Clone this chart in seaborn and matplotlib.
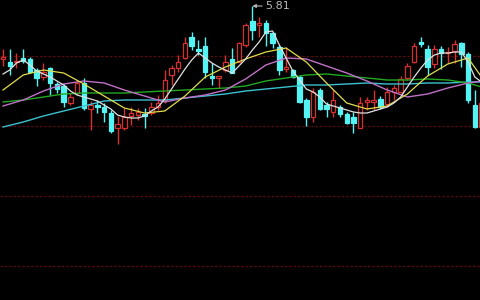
import numpy as np
import pandas as pd
import matplotlib
matplotlib.use("Agg")
import matplotlib.pyplot as plt
import seaborn as sns

# ---- candle data (price units) ----
opens = [5.28,5.25,5.25,5.29,5.28,5.17,5.10,5.19,5.03,5.01,
         4.84,4.94,5.04,4.78,4.82,4.80,4.74,4.59,4.59,4.71,
         4.72,4.73,4.74,4.80,4.87,5.12,5.19,5.29,5.50,5.38,
         5.41,5.11,5.09,5.17,5.28,5.25,5.42,5.66,5.62,5.64,
         5.54,5.40,5.18,5.17,5.10,4.87,4.70,4.97,4.82,4.75,
         4.80,4.73,4.70,4.59,4.85,4.85,4.88,4.83,4.95,4.95,
         5.09,5.25,5.45,5.38,5.23,5.38,5.34,5.36,5.44,5.33,
         4.82,4.60]
highs = [5.38,5.38,5.34,5.38,5.30,5.19,5.24,5.20,5.05,5.03,
         4.94,5.07,5.09,4.86,4.87,4.84,4.77,4.71,4.79,4.80,
         4.79,4.79,4.85,4.92,5.17,5.22,5.32,5.50,5.55,5.47,
         5.50,5.24,5.11,5.32,5.39,5.45,5.64,5.81,5.70,5.67,
         5.55,5.42,5.40,5.18,5.12,4.89,4.99,4.99,4.85,4.97,
         4.82,4.75,4.75,4.90,4.90,4.97,4.91,5.00,5.02,5.11,
         5.24,5.44,5.50,5.42,5.42,5.41,5.40,5.47,5.45,5.35,
         4.97,4.87]
lows = [5.21,5.12,5.19,5.24,5.14,5.01,5.07,4.92,4.94,4.80,
        4.82,4.92,4.77,4.57,4.74,4.65,4.54,4.43,4.57,4.62,
        4.67,4.59,4.72,4.77,4.84,5.02,5.15,5.28,5.37,5.32,
        5.09,5.02,4.99,5.15,5.14,5.25,5.40,5.47,5.50,5.41,
        5.39,5.12,5.15,5.09,4.84,4.61,4.65,4.77,4.70,4.70,
        4.70,4.63,4.54,4.59,4.77,4.77,4.78,4.80,4.87,4.94,
        5.07,5.24,5.40,5.12,5.19,5.18,5.24,5.24,5.20,4.84,
        4.59,4.59]
closes = [5.30,5.21,5.26,5.26,5.15,5.09,5.15,5.04,4.98,4.85,
          4.90,5.04,4.79,4.82,4.80,4.75,4.56,4.63,4.70,4.74,
          4.75,4.71,4.80,4.84,5.07,5.19,5.25,5.44,5.41,5.36,
          5.15,5.09,5.11,5.25,5.14,5.44,5.62,5.57,5.64,5.54,
          5.44,5.17,5.20,5.10,4.85,4.70,4.95,4.78,4.78,4.87,
          4.73,4.64,4.64,4.84,4.87,4.87,4.80,4.95,4.99,5.08,
          5.21,5.41,5.43,5.20,5.38,5.34,5.35,5.43,5.33,4.87,
          4.60,4.84]

# ---- moving averages ----
ma5 = [5.13,5.17,5.24,5.27,5.22,5.16,5.13,5.10,5.06,5.02,
       4.96,4.92,4.90,4.88,4.86,4.82,4.78,4.72,4.70,4.69,
       4.69,4.71,4.76,4.80,4.88,4.98,5.08,5.18,5.27,5.34,
       5.29,5.24,5.20,5.17,5.14,5.21,5.28,5.37,5.45,5.55,
       5.56,5.42,5.29,5.16,5.07,4.98,4.95,4.90,4.83,4.81,
       4.79,4.77,4.75,4.74,4.74,4.76,4.78,4.80,4.84,4.90,
       5.00,5.10,5.19,5.27,5.32,5.34,5.34,5.35,5.35,5.25,
       5.10,5.05]
ma_idx = [0,3,6,9,12,15,18,21,24,27,30,33,36,39,42,45,48,51,54,57,60,63,66,69,71]
ma10 = [4.97,5.12,5.17,5.14,5.03,4.91,4.79,4.74,4.76,4.91,5.10,5.20,5.28,
        5.35,5.39,5.25,5.04,4.84,4.78,4.81,4.93,5.11,5.23,5.29,5.10]
ma20 = [4.81,4.87,4.96,5.03,5.06,5.04,4.97,4.91,4.85,4.89,4.92,4.97,5.08,
        5.22,5.29,5.28,5.21,5.14,5.06,4.97,4.90,4.93,4.99,5.04,5.06]
ma30 = [4.85,4.87,4.90,4.93,4.94,4.94,4.94,4.95,4.96,4.97,4.98,4.99,5.01,
        5.06,5.09,5.12,5.13,5.11,5.09,5.07,5.07,5.08,5.07,5.04,5.00]
ma60 = [4.60,4.65,4.71,4.76,4.81,4.86,4.87,4.87,4.87,4.89,4.91,4.93,4.96,
        4.98,5.00,5.02,5.02,5.03,5.04,5.03,5.03,5.04,5.04,5.05,5.05]

grid_levels = [5.31, 4.61, 3.91, 3.21]
peak_label = "5.81"
peak_index = 37
peak_value = 5.81

RED = "#d8302c"
CYAN = "#54f4f4"

fig = plt.figure(figsize=(4.8, 3.0), dpi=100, facecolor="black")
ax = fig.add_axes([0, 0, 1, 1])
ax.set_facecolor("black")

for g in grid_levels:
    ax.axhline(g, color="#5e0808", lw=0.9, ls=(0, (2, 1.5)), zorder=1)

idx = np.arange(len(opens))
o = np.array(opens); c = np.array(closes)
h = np.array(highs); l = np.array(lows)
up = c >= o
cols = np.where(up, RED, CYAN)

ax.vlines(idx, l, h, colors=cols, lw=1.0, zorder=2)
bottoms = np.minimum(o, c)
heights = np.maximum(np.abs(c - o), 0.004)
ax.bar(idx[up], heights[up], bottom=bottoms[up], width=0.66,
       color="black", edgecolor=RED, linewidth=0.9, zorder=3)
ax.bar(idx[~up], heights[~up], bottom=bottoms[~up], width=0.66,
       color=CYAN, edgecolor=CYAN, linewidth=0.9, zorder=3)

df5 = pd.DataFrame({"i": idx, "v": ma5})
dfm = pd.DataFrame({"i": ma_idx, "ma10": ma10, "ma20": ma20,
                    "ma30": ma30, "ma60": ma60})
sns.lineplot(data=dfm, x="i", y="ma60", color="#3cc0d0", lw=1.0, ax=ax, zorder=4)
sns.lineplot(data=dfm, x="i", y="ma30", color="#22a822", lw=1.0, ax=ax, zorder=4)
sns.lineplot(data=dfm, x="i", y="ma20", color="#c070c8", lw=1.0, ax=ax, zorder=4)
sns.lineplot(data=dfm, x="i", y="ma10", color="#e0dc48", lw=0.9, ax=ax, zorder=4)
sns.lineplot(data=df5, x="i", y="v", color="#e0e0e0", lw=0.9, ax=ax, zorder=5)

ax.annotate(peak_label, xy=(peak_index, peak_value), xytext=(9, 0),
            textcoords="offset points", va="center", ha="left",
            color="#b8b8b8", fontsize=8,
            arrowprops=dict(arrowstyle="-|>", color="#b8b8b8", lw=0.8,
                            mutation_scale=5, shrinkA=0, shrinkB=0))

ax.set_xlim(-0.445, 70.77)
ax.set_ylim(2.87, 5.87)
ax.axis("off")
fig.savefig("out.png", dpi=100, facecolor="black")
